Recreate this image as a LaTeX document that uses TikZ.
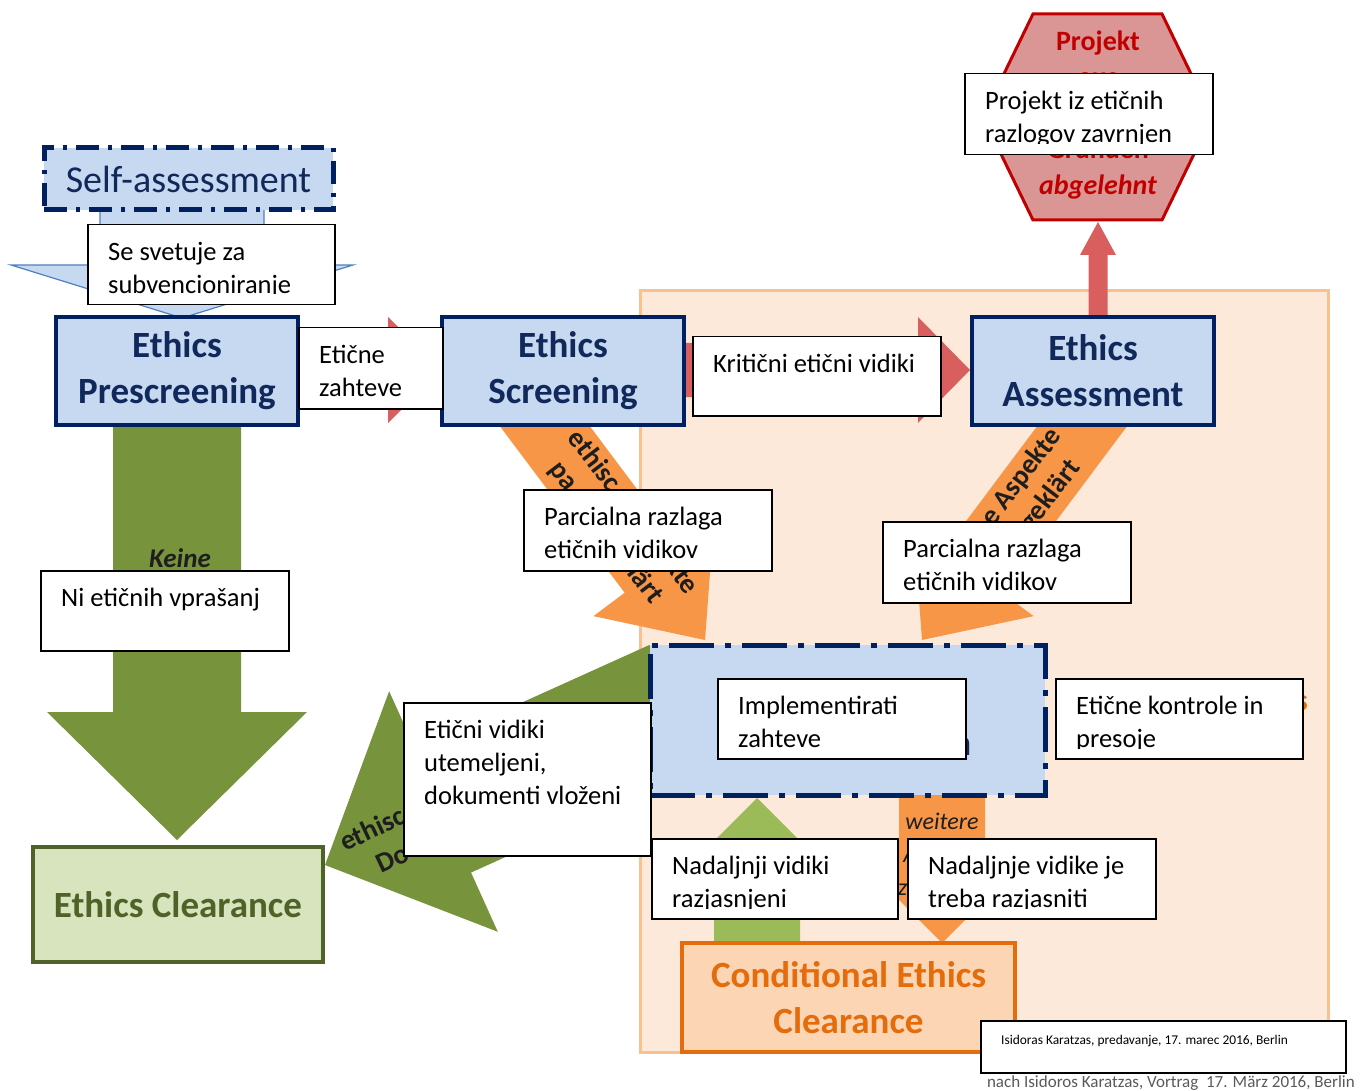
\documentclass[tikz,border=0pt]{standalone}
\usepackage{fontspec}
\setmainfont{Carlito}
\usetikzlibrary{calc}

\definecolor{navy}{RGB}{0,32,96}
\definecolor{navytext}{RGB}{16,40,90}
\definecolor{paleblue}{RGB}{198,217,241}
\definecolor{steel}{RGB}{79,129,189}
\definecolor{peach}{RGB}{253,233,217}
\definecolor{peachline}{RGB}{250,192,144}
\definecolor{orangearrow}{RGB}{247,150,70}
\definecolor{orangedark}{RGB}{228,108,10}
\definecolor{orangepale}{RGB}{252,213,181}
\definecolor{olive}{RGB}{119,147,60}
\definecolor{olivedark}{RGB}{79,98,40}
\definecolor{olivepale}{RGB}{215,228,189}
\definecolor{lightgreen}{RGB}{155,187,89}
\definecolor{redarrow}{RGB}{217,95,95}
\definecolor{stopfill}{RGB}{217,150,148}
\definecolor{stopred}{RGB}{192,0,0}
\definecolor{footgray}{RGB}{89,89,89}
\definecolor{darktext}{RGB}{30,30,30}

\tikzset{
  ethicsbox/.style={draw=navy, line width=4pt, fill=paleblue, text=navytext,
    font=\bfseries\fontsize{37}{46}\selectfont, align=center,
    minimum width=242pt, minimum height=108pt, inner sep=0pt},
  dashbox/.style={draw=navy, line width=5pt, fill=paleblue, inner sep=0pt},
  transbox/.style={draw=black, line width=1.5pt, fill=white, inner sep=0pt},
  transtext/.style={font=\fontsize{26.5}{33}\selectfont, align=left, inner sep=0pt},
  arrowtext/.style={font=\bfseries\fontsize{28}{34}\selectfont, text=darktext, inner sep=0pt},
}

% fat arrow: style, tail, tip, shaft half width, head half width, head length
\newcommand{\bigarrow}[6]{%
  \coordinate (ba-h) at ($(#3)!#6!(#2)$);
  \path[#1] ($(#2)!#4!90:(#3)$) -- ($(ba-h)!#4!-90:(#2)$) -- ($(ba-h)!#5!-90:(#2)$)
    -- (#3) -- ($(ba-h)!#5!90:(#2)$) -- ($(ba-h)!#4!90:(#2)$) -- ($(#2)!#4!-90:(#3)$) -- cycle;
}

% white translation box: name, x, y, width, height, text
\newcommand{\transbox}[6]{%
  \node[transbox, anchor=north west, minimum width=#4, minimum height=#5] (#1) at (#2,#3) {};
  \begin{scope}
    \clip (#2,#3) rectangle ({#2+#4},{#3+#5-10});
    \node[transtext, anchor=north west] at ([xshift=21pt, yshift=-18pt]#1.north west) {#6};
  \end{scope}
}

\begin{document}
\begin{tikzpicture}[x=1pt, y=-1pt]
\useasboundingbox (0,0) rectangle (1371,1091);

% review area
\draw[peachline, fill=peach, line width=3pt] (640,291) rectangle (1328,1052);

% arrow ends
\coordinate (sa-tail) at (182,205);
\coordinate (sa-tip) at (182,318);
\coordinate (none-tail) at (177,420);
\coordinate (none-tip) at (177,840);
\coordinate (req-tail) at (296,370);
\coordinate (req-tip) at (442,370);
\coordinate (crit-tail) at (684,370);
\coordinate (crit-tip) at (970,370);
\coordinate (stop-tail) at (1098,317);
\coordinate (stop-tip) at (1098,222);
\coordinate (scr-tail) at (526,401);
\coordinate (scr-tip) at (705,640);
\coordinate (ass-tail) at (1101,401);
\coordinate (ass-tip) at (922,640);
\coordinate (ok-tail) at (677,706);
\coordinate (ok-tip) at (325,865);
\coordinate (done-tail) at (757,948);
\coordinate (done-tip) at (757,798);
\coordinate (more-tail) at (942,792);
\coordinate (more-tip) at (942,943);

\bigarrow{fill=paleblue, draw=steel, line width=1.2pt}{sa-tail}{sa-tip}{82pt}{171pt}{53pt}
\bigarrow{fill=olive}{none-tail}{none-tip}{64pt}{130pt}{128pt}
\bigarrow{fill=redarrow}{req-tail}{req-tip}{27pt}{53pt}{54pt}
\bigarrow{fill=redarrow}{crit-tail}{crit-tip}{27pt}{53pt}{52pt}
\bigarrow{fill=redarrow}{stop-tail}{stop-tip}{9.5pt}{18pt}{33pt}
\bigarrow{fill=orangearrow}{scr-tail}{scr-tip}{36pt}{75pt}{86pt}
\bigarrow{fill=orangearrow}{ass-tail}{ass-tip}{36pt}{75pt}{86pt}
\bigarrow{fill=olive}{ok-tail}{ok-tip}{67pt}{132pt}{130pt}
\bigarrow{fill=lightgreen}{done-tail}{done-tip}{43pt}{60pt}{60pt}
\bigarrow{fill=orangearrow}{more-tail}{more-tip}{43pt}{60pt}{60pt}

% arrow labels (parts under the white boxes left out)
\node[arrowtext, align=center, rotate=-52.8] (scr-label) at (619,523)
  {ethisc\phantom{he Aspe}kte\\pa\phantom{rtiell ge}klärt};
\node[arrowtext, align=center, rotate=52.8] (ass-label) at (1010,521)
  {\phantom{ethisch}e Aspekte\\p\phantom{artiell }geklärt};
\node[arrowtext, rotate=25, anchor=base west] (ok-label1) at (345,852) {ethisc};
\node[arrowtext, rotate=25, anchor=base west] (ok-label2) at (381,874) {Do};
\node[font=\bfseries\itshape\fontsize{27}{32}\selectfont, text=darktext, anchor=base, inner sep=0pt] (keine) at (180,567) {Keine};
\node[font=\itshape\fontsize{24}{33}\selectfont, text=darktext, align=center, anchor=north, inner sep=0pt] (weitere) at (942,813)
  {weitere\\A\phantom{spekte}\\z\phantom{u klären}};

% boxes
\node[dashbox, dash pattern=on 23pt off 9pt on 4pt off 9pt, minimum width=289pt, minimum height=62pt,
  text=navytext, font=\fontsize{38}{46}\selectfont] (self) at (188.5,179) {Self-assessment};
\node[ethicsbox] (prescr) at (177,371) {Ethics\\Prescreening};
\node[ethicsbox] (screen) at (563,371) {Ethics\\Screening};
\node[ethicsbox] (assess) at (1093,371) {Ethics\\Assessment};
\node[dashbox, dash pattern=on 45pt off 11pt on 6pt off 11pt, minimum width=395pt, minimum height=150pt] (impl) at (847.5,720) {};
\node[text=navytext, font=\bfseries\fontsize{37}{46}\selectfont, inner sep=0pt] (impl-text) at (847.5,745) {\phantom{Implementatio}n};
\node[font=\bfseries\fontsize{30}{36}\selectfont, text=orangedark, anchor=east, inner sep=0pt] (audit) at (1308,700) {\phantom{Check}s};
\node[draw=olivedark, line width=4pt, fill=olivepale, text=olivedark, font=\bfseries\fontsize{37}{46}\selectfont,
  minimum width=290pt, minimum height=115pt] (clear) at (178,904.5) {Ethics Clearance};
\node[draw=orangedark, line width=4pt, fill=orangepale, text=orangedark, font=\bfseries\fontsize{37}{46}\selectfont,
  align=center, minimum width=333pt, minimum height=109pt] (cond) at (848.5,997.5) {Conditional Ethics\\Clearance};

% rejected
\draw[stopred, fill=stopfill, line width=3pt] (1033,14) -- (1162,14) -- (1212,117) -- (1162,220)
  -- (1033,220) -- (983,117) -- cycle;
\node[font=\bfseries\fontsize{28}{36}\selectfont, text=stopred, align=center] (stop) at (1098,115)
  {Projekt\\aus\\\mbox{}\\Gründen\\{\itshape abgelehnt}};

% translations
\transbox{tb-subv}{87}{224}{247}{80}{Se svetuje za\\subvencioniranje}
\transbox{tb-req}{298}{327}{144}{81}{Etične\\zahteve}
\transbox{tb-crit}{692}{336}{248}{79}{Kritični etični vidiki}
\transbox{tb-stop}{964}{73}{248}{81}{Projekt iz etičnih\\razlogov zavrnjen}
\transbox{tb-part1}{523}{489}{248}{81}{Parcialna razlaga\\etičnih vidikov}
\transbox{tb-part2}{882}{521}{248}{81}{Parcialna razlaga\\etičnih vidikov}
\transbox{tb-none}{40}{570}{248}{80}{Ni etičnih vprašanj}
\transbox{tb-ok}{403}{702}{247}{153}{Etični vidiki\\utemeljeni,\\dokumenti vloženi}
\transbox{tb-impl}{717}{678}{248}{80}{Implementirati\\zahteve}
\transbox{tb-audit}{1055}{678}{247}{80}{Etične kontrole in\\presoje}
\transbox{tb-done}{651}{838}{246}{80}{Nadaljnji vidiki\\razjasnjeni}
\transbox{tb-more}{907}{838}{248}{80}{Nadaljnje vidike je\\treba razjasniti}

% source
\node[transbox, anchor=north west, minimum width=365pt, minimum height=52pt] (tb-foot) at (980,1020) {};
\node[font=\fontsize{13.4}{16}\selectfont, anchor=base west, inner sep=0pt] (foot) at (1001,1044)
  {Isidoras Karatzas, predavanje, 17. marec 2016, Berlin};
\node[font=\fontsize{17}{20}\selectfont, text=footgray, anchor=base east, inner sep=0pt] (source) at (1355,1087)
  {nach Isidoros Karatzas, Vortrag\ \ 17. März 2016, Berlin};
\end{tikzpicture}
\end{document}
